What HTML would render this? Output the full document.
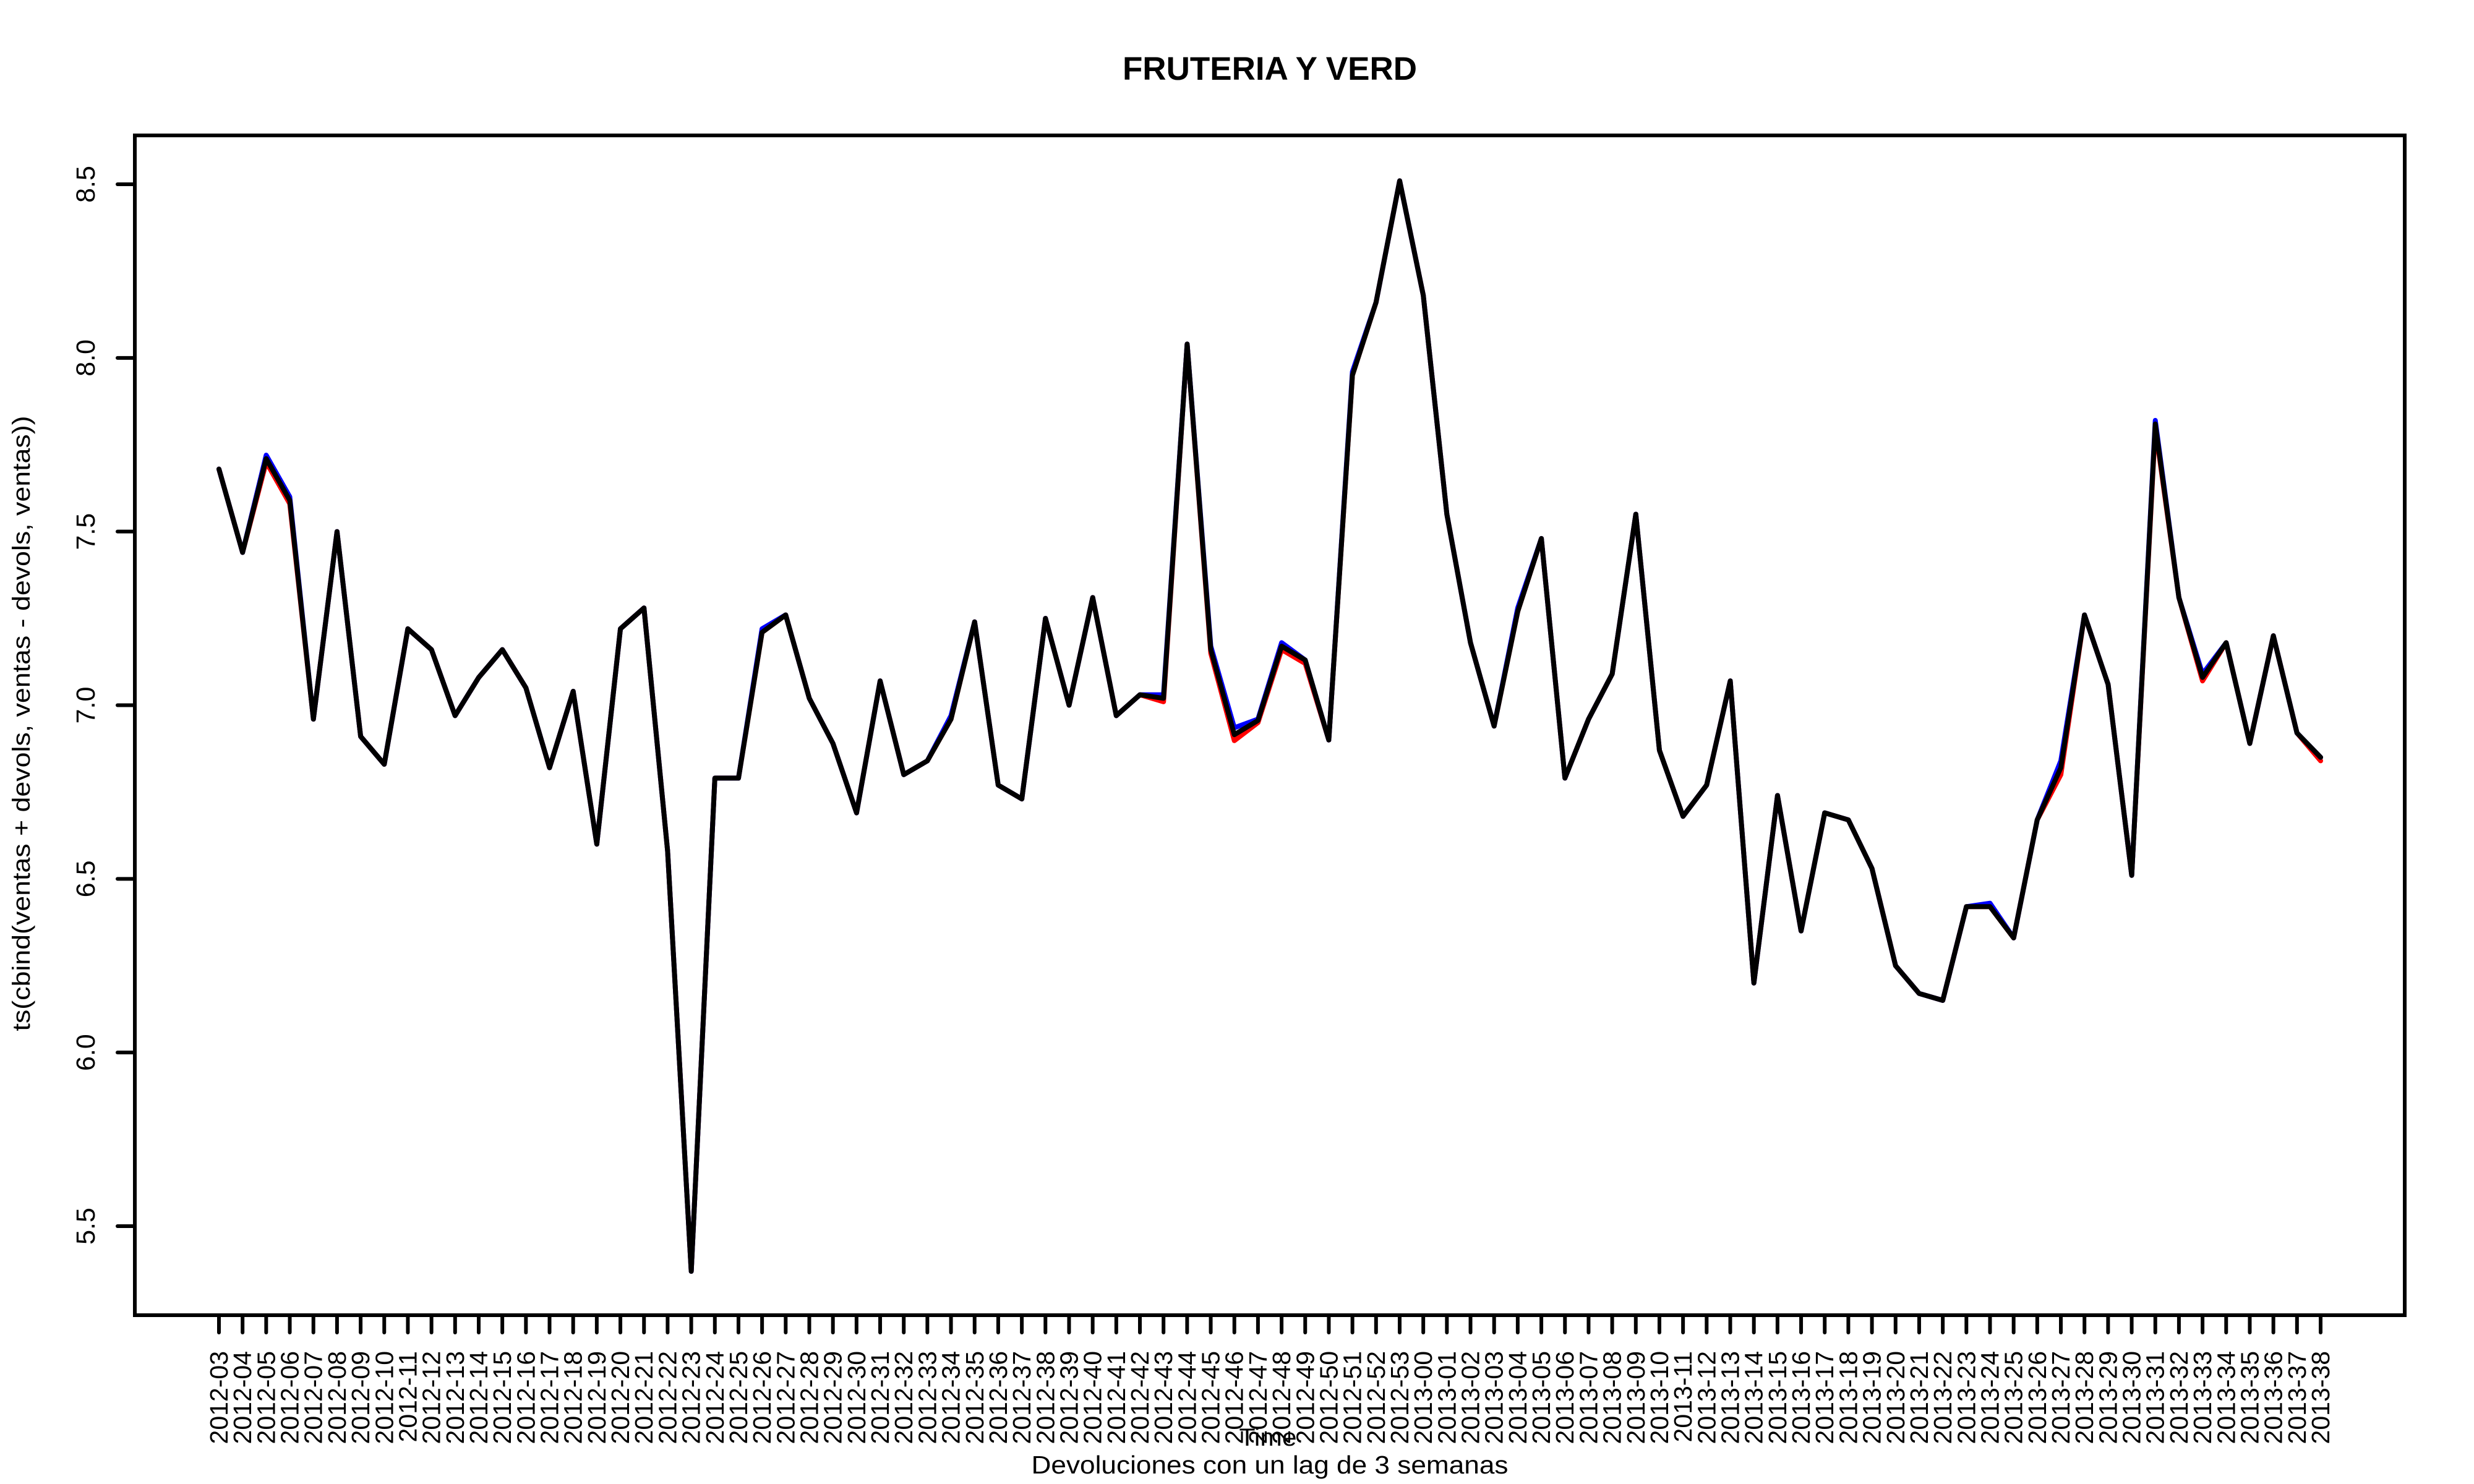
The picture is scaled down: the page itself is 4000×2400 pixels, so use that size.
<!DOCTYPE html>
<html><head><meta charset="utf-8"><style>
html,body{margin:0;padding:0;background:#fff;}
svg{display:block;font-family:"Liberation Sans",sans-serif;}
</style></head><body>
<svg id="chart" width="4000" height="2400" viewBox="0 0 4000 2400" xmlns="http://www.w3.org/2000/svg">
<text x="2053" y="129" font-size="53" font-weight="bold" text-anchor="middle">FRUTERIA Y VERD</text>
<g id="plot"></g>
<rect x="218" y="219" width="3670" height="1908" fill="none" stroke="#000" stroke-width="6"/>
<text transform="translate(48,1170) rotate(-90)" font-size="40" text-anchor="middle" textLength="995" lengthAdjust="spacingAndGlyphs">ts(cbind(ventas + devols, ventas - devols, ventas))</text>
<text x="2050" y="2338" font-size="40" text-anchor="middle" textLength="93" lengthAdjust="spacingAndGlyphs">Time</text>
<text x="2053" y="2383" font-size="41" text-anchor="middle" textLength="771" lengthAdjust="spacingAndGlyphs">Devoluciones con un lag de 3 semanas</text>
</svg>
<script>
const categories = [];
for (let w = 3; w <= 53; w++) categories.push('2012-' + String(w).padStart(2,'0'));
for (let w = 0; w <= 38; w++) categories.push('2013-' + String(w).padStart(2,'0'));
const ventas = [7.68,7.44,7.71,7.59,6.96,7.50,6.91,6.83,7.22,7.16,6.97,7.08,7.16,7.05,6.82,7.04,6.60,7.22,7.28,6.58,
5.37,6.79,6.79,7.21,7.26,7.02,6.89,6.69,7.07,6.80,6.84,6.96,7.24,6.77,6.73,7.25,7.00,7.31,6.97,7.03,
7.02,8.04,7.16,6.915,6.956,7.17,7.13,6.90,7.95,8.16,8.51,8.18,7.55,7.18,6.94,7.27,7.48,6.79,6.96,7.09,
7.55,6.87,6.68,6.77,7.07,6.20,6.74,6.35,6.69,6.67,6.53,6.25,6.17,6.15,6.42,6.42,6.33,6.67,6.82,7.26,
7.06,6.51,7.81,7.31,7.08,7.18,6.89,7.20,6.92,6.85];
const ventasPlus = [7.68,7.44,7.70,7.58,6.96,7.50,6.91,6.83,7.22,7.16,6.97,7.08,7.16,7.05,6.82,7.04,6.60,7.22,7.28,6.58,
5.37,6.79,6.79,7.21,7.26,7.02,6.89,6.69,7.07,6.80,6.84,6.96,7.24,6.77,6.73,7.25,7.00,7.31,6.97,7.03,
7.01,8.04,7.15,6.898,6.95,7.16,7.12,6.90,7.95,8.16,8.51,8.18,7.55,7.18,6.94,7.27,7.48,6.79,6.96,7.09,
7.55,6.87,6.68,6.77,7.07,6.20,6.74,6.35,6.69,6.67,6.53,6.25,6.17,6.15,6.42,6.42,6.33,6.67,6.80,7.26,
7.06,6.51,7.80,7.31,7.07,7.18,6.89,7.20,6.92,6.84];
const ventasMinus = [7.68,7.44,7.72,7.60,6.96,7.50,6.91,6.83,7.22,7.16,6.97,7.08,7.16,7.05,6.82,7.04,6.60,7.22,7.28,6.58,
5.37,6.79,6.79,7.22,7.26,7.02,6.89,6.69,7.07,6.80,6.84,6.97,7.24,6.77,6.73,7.25,7.00,7.31,6.97,7.03,
7.03,8.04,7.17,6.935,6.96,7.18,7.13,6.90,7.96,8.16,8.51,8.18,7.55,7.18,6.94,7.28,7.48,6.79,6.96,7.09,
7.55,6.87,6.68,6.77,7.07,6.20,6.74,6.35,6.69,6.67,6.53,6.25,6.17,6.15,6.42,6.43,6.33,6.67,6.84,7.26,
7.06,6.51,7.82,7.31,7.09,7.18,6.89,7.20,6.92,6.85];
const yTicks = [5.5,6.0,6.5,7.0,7.5,8.0,8.5];
const yTickLabels = ['5.5','6.0','6.5','7.0','7.5','8.0','8.5'];

const NS = 'http://www.w3.org/2000/svg';
const svg = document.getElementById('chart');
const plot = document.getElementById('plot');
const x0 = 354, x1 = 3752;
function xs(i){ return x0 + i*(x1-x0)/(categories.length-1); }
function ys(v){ return 298 + (8.5 - v) * (1983-298)/3; }

function series(arr, color, name){
  const p = document.createElementNS(NS,'polyline');
  p.setAttribute('points', arr.map((v,i)=>xs(i).toFixed(1)+','+ys(v).toFixed(1)).join(' '));
  p.setAttribute('fill','none');
  p.setAttribute('stroke',color);
  p.setAttribute('stroke-width','8');
  p.setAttribute('stroke-linejoin','round');
  p.setAttribute('stroke-linecap','round');
  
  
  plot.appendChild(p);
}
series(ventasPlus,'#ff0000','series-ventas-plus-devols');
series(ventasMinus,'#0000ff','series-ventas-minus-devols');
series(ventas,'#000000','series-ventas');

yTicks.forEach((v,k)=>{
  const y = ys(v);
  const l = document.createElementNS(NS,'line');
  l.setAttribute('x1',190); l.setAttribute('x2',218);
  l.setAttribute('y1',y); l.setAttribute('y2',y);
  l.setAttribute('stroke','#000'); l.setAttribute('stroke-width','6'); l.setAttribute('stroke-linecap','round');
  
  
  svg.appendChild(l);
  const t = document.createElementNS(NS,'text');
  t.setAttribute('transform','translate(153,'+y+') rotate(-90)');
  t.setAttribute('font-size','43');
  t.setAttribute('text-anchor','middle');
  t.textContent = yTickLabels[k];
  
  
  svg.appendChild(t);
});

categories.forEach((c,i)=>{
  const x = xs(i);
  const l = document.createElementNS(NS,'line');
  l.setAttribute('x1',x); l.setAttribute('x2',x);
  l.setAttribute('y1',2127); l.setAttribute('y2',2155);
  l.setAttribute('stroke','#000'); l.setAttribute('stroke-width','6'); l.setAttribute('stroke-linecap','round');
  
  
  svg.appendChild(l);
  const t = document.createElementNS(NS,'text');
  t.setAttribute('transform','translate('+(x+14)+',2185) rotate(-90)');
  t.setAttribute('font-size','41');
  t.setAttribute('text-anchor','end');
  t.textContent = c;
  
  
  svg.appendChild(t);
});
</script>
</body></html>
